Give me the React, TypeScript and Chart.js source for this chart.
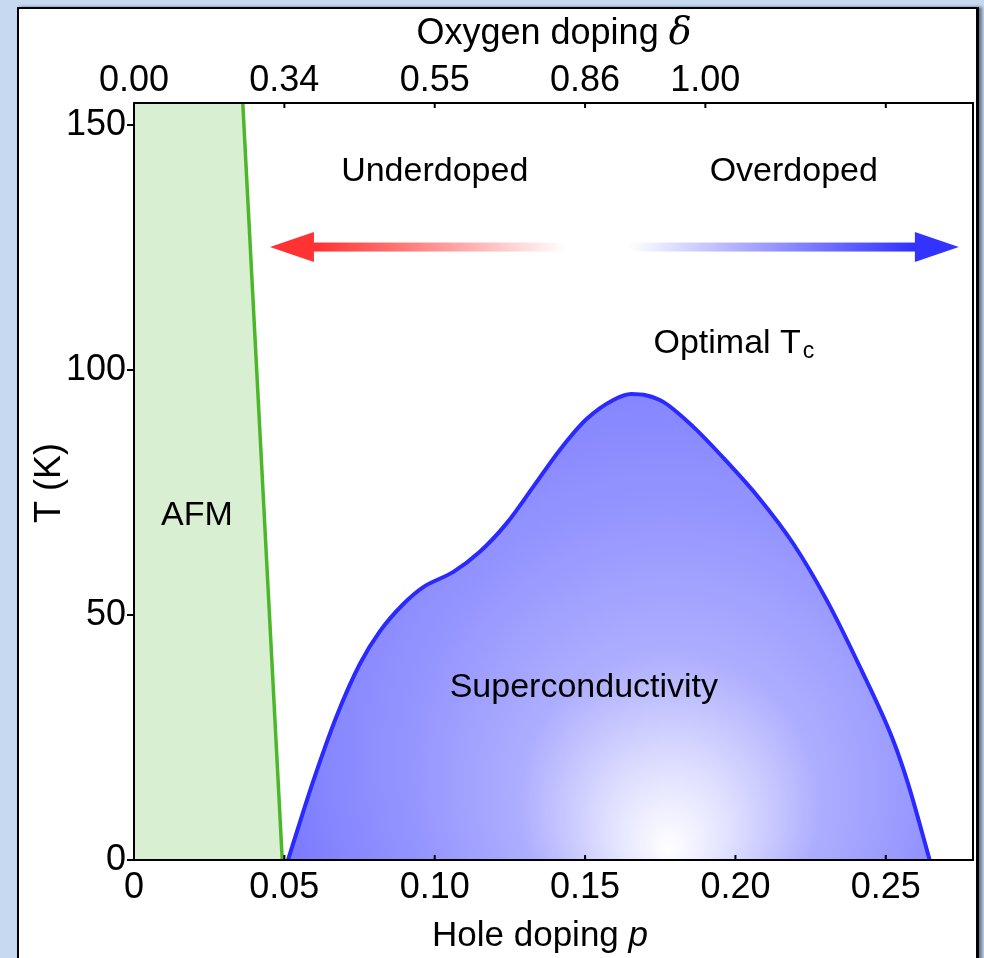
import React, { useEffect, useRef } from 'react';
import { Chart, registerables } from 'chart.js';
Chart.register(...registerables);

// Superconducting dome boundary Tc(p)
const domeP = [0.0512, 0.0596, 0.0674, 0.0751, 0.0818, 0.0895, 0.0962, 0.1062, 0.115, 0.1239, 0.1328, 0.1416, 0.1505, 0.1594, 0.1654, 0.1705, 0.176, 0.186, 0.197, 0.2081, 0.2192, 0.2303, 0.2414, 0.2524, 0.2574, 0.2646];
const domeT = [0, 16.1, 29.4, 40.0, 46.7, 52.2, 55.7, 58.8, 62.9, 68.7, 76.2, 83.7, 90.0, 93.9, 95.1, 94.8, 93.5, 88.4, 81.4, 73.7, 64.6, 53.1, 39.4, 24.5, 15.6, 0];

// AFM boundary (region to the left is filled); first points lie above the plot top
const afmP = [-0.01, 0.0357, 0.0493];
const afmT = [160, 160, 0];

// Axes
const xMin = 0;
const xMax = 0.279;
const yMin = 0;
const yMax = 154.5;
const bottomTicks = [0, 0.05, 0.1, 0.15, 0.2, 0.25];
const bottomTickLabels = ['0', '0.05', '0.10', '0.15', '0.20', '0.25'];
const topTicks = [0, 0.05, 0.1, 0.15, 0.19, 0.25];
const topTickLabels = ['0.00', '0.34', '0.55', '0.86', '1.00', ''];
const yTicks = [0, 50, 100, 150];
const yTickLabels = ['0', '50', '100', '150'];

// Annotations
const labelTexts = ['Underdoped', 'Overdoped', 'AFM', 'Superconductivity'];
const labelP = [0.1, 0.2194, 0.0209, 0.1496];
const labelT = [140.4, 140.4, 70.2, 35.1];
const optimalP = 0.1995;
const optimalT = 105.3;
const arrowP = [0.0452, 0.2743];
const arrowT = 125.1;
const gradCenterP = 0.178;
const gradCenterT = 2;

const FONT = "'Liberation Sans', Arial, sans-serif";
const GREEN = '#4bb82a';
const BLUE = '#2a2aff';

const overlayPlugin = {
  id: 'overlay',
  afterDatasetsDraw(chart: any) {
    const { ctx, chartArea, scales } = chart;
    const xs = scales.x;
    const ys = scales.y;
    ctx.save();
    // arrow
    const y = ys.getPixelForValue(arrowT);
    const xl = xs.getPixelForValue(arrowP[0]);
    const xr = xs.getPixelForValue(arrowP[1]);
    const headL = 44;
    const headH = 15;
    const shaftH = 4.5;
    const g = ctx.createLinearGradient(xl, 0, xr, 0);
    g.addColorStop(0, '#ff3030');
    g.addColorStop(0.07, '#ff3333');
    g.addColorStop(0.43, '#ffffff');
    g.addColorStop(0.52, '#ffffff');
    g.addColorStop(0.93, '#3333ff');
    g.addColorStop(1, '#3030ff');
    ctx.fillStyle = g;
    ctx.fillRect(xl + headL - 1, y - shaftH, xr - xl - 2 * headL + 2, shaftH * 2);
    ctx.fillStyle = '#ff3333';
    ctx.beginPath();
    ctx.moveTo(xl, y);
    ctx.lineTo(xl + headL, y - headH);
    ctx.lineTo(xl + headL, y + headH);
    ctx.closePath();
    ctx.fill();
    ctx.fillStyle = '#3333ff';
    ctx.beginPath();
    ctx.moveTo(xr, y);
    ctx.lineTo(xr - headL, y - headH);
    ctx.lineTo(xr - headL, y + headH);
    ctx.closePath();
    ctx.fill();

    // labels
    ctx.fillStyle = '#000';
    ctx.textAlign = 'center';
    ctx.textBaseline = 'middle';
    ctx.font = `34px ${FONT}`;
    labelTexts.forEach((t, i) => {
      ctx.fillText(t, xs.getPixelForValue(labelP[i]), ys.getPixelForValue(labelT[i]));
    });
    // Optimal Tc
    const main = 'Optimal T';
    const wMain = ctx.measureText(main).width;
    ctx.font = `23px ${FONT}`;
    const wSub = ctx.measureText('c').width;
    const total = wMain + wSub + 2;
    const ox = xs.getPixelForValue(optimalP) - total / 2;
    const oy = ys.getPixelForValue(optimalT);
    ctx.textAlign = 'left';
    ctx.font = `34px ${FONT}`;
    ctx.fillText(main, ox, oy);
    ctx.font = `23px ${FONT}`;
    ctx.fillText('c', ox + wMain + 2, oy + 8);

    // plot frame
    ctx.strokeStyle = '#000';
    ctx.lineWidth = 2;
    ctx.strokeRect(chartArea.left, chartArea.top, chartArea.right - chartArea.left, chartArea.bottom - chartArea.top);
    // inward x ticks
    bottomTicks.forEach((v) => {
      const px = xs.getPixelForValue(v);
      ctx.beginPath();
      ctx.moveTo(px, chartArea.bottom);
      ctx.lineTo(px, chartArea.bottom - 5);
      ctx.stroke();
    });
    topTicks.forEach((v) => {
      const px = scales.x2.getPixelForValue(v);
      ctx.beginPath();
      ctx.moveTo(px, chartArea.top);
      ctx.lineTo(px, chartArea.top + 5);
      ctx.stroke();
    });

    // axis titles
    ctx.textBaseline = 'alphabetic';
    ctx.textAlign = 'left';
    // top title
    const serifItalic = `italic 38px 'DejaVu Serif', 'Liberation Serif', serif`;
    ctx.font = `36px ${FONT}`;
    const t1 = 'Oxygen doping ';
    const w1 = ctx.measureText(t1).width;
    ctx.font = serifItalic;
    const w2 = ctx.measureText('δ').width;
    let sx = 554 - (w1 + w2) / 2;
    ctx.font = `36px ${FONT}`;
    ctx.fillText(t1, sx, 44);
    ctx.font = serifItalic;
    ctx.fillText('δ', sx + w1, 44);
    // bottom title
    ctx.font = `35px ${FONT}`;
    const b1 = 'Hole doping ';
    const bw1 = ctx.measureText(b1).width;
    ctx.font = `italic 35px ${FONT}`;
    const bw2 = ctx.measureText('p').width;
    sx = 540 - (bw1 + bw2) / 2;
    ctx.font = `35px ${FONT}`;
    ctx.fillText(b1, sx, 946);
    ctx.font = `italic 35px ${FONT}`;
    ctx.fillText('p', sx + bw1, 946);
    // y title
    ctx.save();
    ctx.translate(60, 483);
    ctx.rotate(-Math.PI / 2);
    ctx.textAlign = 'center';
    ctx.font = `36px ${FONT}`;
    ctx.fillText('T (K)', 0, 0);
    ctx.restore();

    ctx.restore();
  },
};

export default function App() {
  const ref = useRef<HTMLCanvasElement>(null);
  useEffect(() => {
    document.body.style.margin = '0';
    const canvas = ref.current;
    if (!canvas) return;
    const tickFont = { family: FONT, size: 36 };
    const chart = new Chart(canvas, {
      type: 'line',
      data: {
        datasets: [
          {
            label: 'AFM',
            data: afmP.map((p, i) => ({ x: p, y: afmT[i] })),
            borderColor: GREEN,
            borderWidth: 3.5,
            backgroundColor: '#d9efd2',
            fill: 'origin',
            pointRadius: 0,
            tension: 0,
          },
          {
            label: 'SC',
            data: domeP.map((p, i) => ({ x: p, y: domeT[i] })),
            borderColor: BLUE,
            borderWidth: 4,
            fill: 'origin',
            pointRadius: 0,
            cubicInterpolationMode: 'monotone',
            backgroundColor: (c: any) => {
              const ch = c.chart;
              if (!ch.chartArea) return '#8888ff';
              const gx = ch.scales.x.getPixelForValue(gradCenterP);
              const gy = ch.scales.y.getPixelForValue(gradCenterT);
              const gr = ch.ctx.createRadialGradient(gx, gy, 0, gx, gy - 150, 480);
              gr.addColorStop(0, '#ffffff');
              gr.addColorStop(0.12, '#e2e2ff');
              gr.addColorStop(0.31, '#aeaeff');
              gr.addColorStop(0.54, '#9595ff');
              gr.addColorStop(0.72, '#8686ff');
              gr.addColorStop(0.85, '#7878ff');
              gr.addColorStop(1, '#7070ff');
              return gr;
            },
          },
        ],
      },
      options: {
        animation: false,
        responsive: false,
        maintainAspectRatio: false,
        layout: { padding: { left: 20, right: 11, top: 9, bottom: 2 } },
        plugins: { legend: { display: false }, tooltip: { enabled: false }, title: { display: false } },
        scales: {
          x: {
            type: 'linear',
            position: 'bottom',
            min: xMin,
            max: xMax,
            afterBuildTicks: (s: any) => { s.ticks = bottomTicks.map((v) => ({ value: v })); },
            afterFit: (s: any) => { s.height = 96; },
            grid: { display: false },
            border: { display: false },
            ticks: {
              autoSkip: false,
              maxRotation: 0,
              padding: -2,
              color: '#000',
              font: tickFont,
              callback: (_v: any, i: number) => bottomTickLabels[i],
            },
          },
          x2: {
            type: 'linear',
            position: 'top',
            min: xMin,
            max: xMax,
            afterBuildTicks: (s: any) => { s.ticks = topTicks.map((v) => ({ value: v })); },
            afterFit: (s: any) => { s.height = 94; },
            grid: { display: false },
            border: { display: false },
            ticks: {
              autoSkip: false,
              maxRotation: 0,
              padding: -8,
              color: '#000',
              font: tickFont,
              callback: (_v: any, i: number) => topTickLabels[i],
            },
          },
          y: {
            type: 'linear',
            position: 'left',
            min: yMin,
            max: yMax,
            afterBuildTicks: (s: any) => { s.ticks = yTicks.map((v) => ({ value: v })); },
            afterFit: (s: any) => { s.width = 114; },
            grid: { display: true, drawOnChartArea: false, drawTicks: true, tickLength: 7, color: '#000', lineWidth: 2 },
            border: { display: false },
            ticks: {
              autoSkip: false,
              padding: 1,
              color: '#000',
              font: tickFont,
              callback: (_v: any, i: number) => yTickLabels[i],
            },
          },
        },
      },
      plugins: [overlayPlugin],
    } as any);
    return () => chart.destroy();
  }, []);

  return (
    <div style={{ position: 'relative', width: 984, height: 958, background: '#c6d9f0', overflow: 'hidden' }}>
      <div
        style={{
          position: 'absolute',
          left: 17,
          top: 7,
          width: 962,
          height: 960,
          boxSizing: 'border-box',
          background: '#fff',
          borderLeft: '2px solid #000',
          borderTop: '2px solid #000',
          borderRight: '3px solid #000',
          boxShadow: '3px 0 3px rgba(80,90,110,0.8)',
        }}
      />
      <canvas ref={ref} width={984} height={958} style={{ position: 'absolute', left: 0, top: 0, width: 984, height: 958 }} />
    </div>
  );
}
